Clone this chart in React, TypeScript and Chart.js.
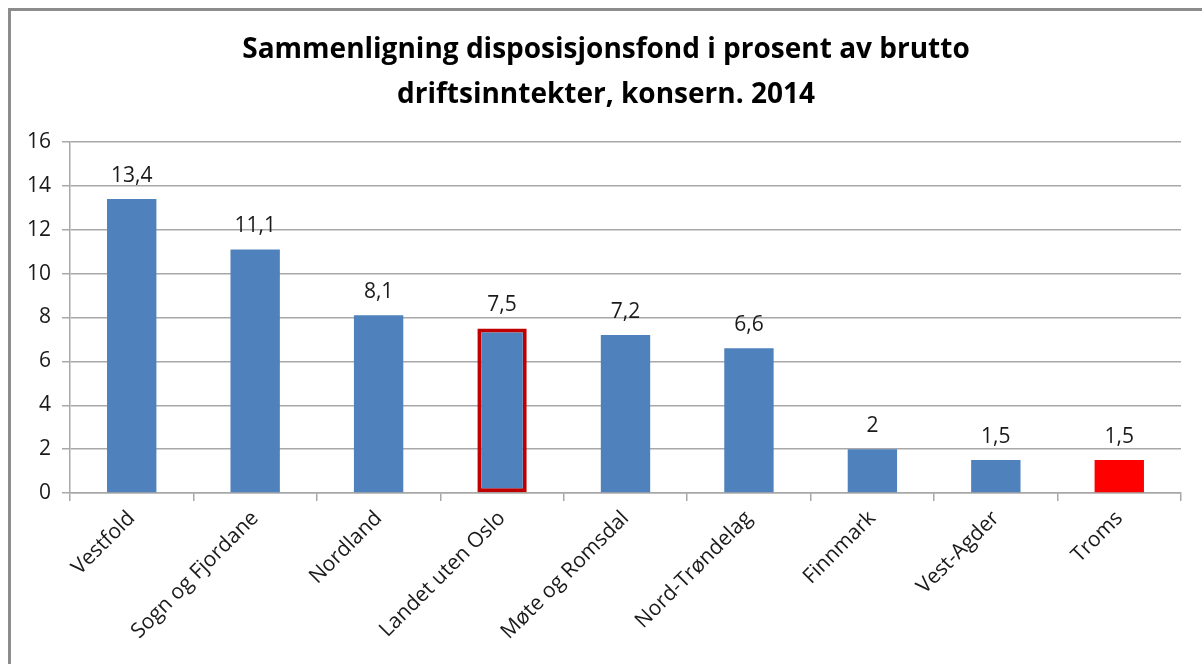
import React, { useEffect, useRef } from "react";
import { Chart, registerables } from "chart.js";

Chart.register(...registerables);

const titleLines = [
  "Sammenligning disposisjonsfond i prosent av brutto",
  "driftsinntekter, konsern. 2014",
];
const categories = [
  "Vestfold",
  "Sogn og Fjordane",
  "Nordland",
  "Landet uten Oslo",
  "Møte og Romsdal",
  "Nord-Trøndelag",
  "Finnmark",
  "Vest-Agder",
  "Troms",
];
const values = [13.4, 11.1, 8.1, 7.5, 7.2, 6.6, 2, 1.5, 1.5];
const yTicks = [0, 2, 4, 6, 8, 10, 12, 14, 16];

const BLUE = "#4F81BD";
const RED = "#FF0000";
const HIGHLIGHT_BORDER = "#C00000";
const GRID = "#A8A8A8";
const FONT = "'Open Sans', 'Noto Sans', sans-serif";

const formatValue = (v: number) => String(v).replace(".", ",");

const valueLabelPlugin = {
  id: "valueLabels",
  afterDatasetsDraw(chart: any) {
    const { ctx } = chart;
    const meta = chart.getDatasetMeta(0);
    ctx.save();
    ctx.font = `21px ${FONT}`;
    ctx.fillStyle = "#1a1a1a";
    ctx.textAlign = "center";
    ctx.textBaseline = "middle";
    meta.data.forEach((bar: any, i: number) => {
      ctx.fillText(formatValue(values[i]), bar.x, bar.y - 23);
    });
    ctx.restore();
  },
};

const titlePlugin = {
  id: "fixedTitle",
  afterDraw(chart: any) {
    const { ctx } = chart;
    ctx.save();
    ctx.font = `bold 28px ${FONT}`;
    ctx.fillStyle = "#000";
    ctx.textAlign = "center";
    ctx.textBaseline = "middle";
    ctx.fillText(titleLines[0], 606, 50);
    ctx.fillText(titleLines[1], 606, 95);
    ctx.restore();
  },
};

export default function App() {
  const canvasRef = useRef<HTMLCanvasElement | null>(null);

  useEffect(() => {
    if (!canvasRef.current) return;
    const chart = new Chart(canvasRef.current, {
      type: "bar",
      data: {
        labels: categories,
        datasets: [
          {
            data: values,
            backgroundColor: categories.map((c) =>
              c === "Troms" ? RED : BLUE
            ),
            borderColor: categories.map((c) =>
              c === "Landet uten Oslo" ? HIGHLIGHT_BORDER : "rgba(0,0,0,0)"
            ),
            borderWidth: categories.map((c) =>
              c === "Landet uten Oslo" ? 4 : 0
            ),
            borderSkipped: false,
            barPercentage: 0.4,
            categoryPercentage: 1,
          },
        ],
      },
      options: {
        responsive: false,
        animation: false,
        devicePixelRatio: 1,
        layout: { padding: { top: 142, right: 21, left: 0, bottom: 0 } },
        plugins: {
          legend: { display: false },
          title: { display: false },
          tooltip: { enabled: false },
        },
        scales: {
          x: {
            grid: {
              display: true,
              drawOnChartArea: false,
              drawTicks: true,
              tickLength: 8,
              offset: true,
              color: GRID,
              lineWidth: 1.5,
            },
            border: { display: true, color: GRID, width: 1.5 },
            ticks: {
              minRotation: 45,
              maxRotation: 45,
              autoSkip: false,
              padding: 5,
              color: "#1a1a1a",
              font: { family: FONT, size: 21 },
            },
            afterFit(scale: any) {
              scale.height = 664 - 493;
            },
          },
          y: {
            min: 0,
            max: 16,
            afterBuildTicks(scale: any) {
              scale.ticks = yTicks.map((v) => ({ value: v }));
            },
            grid: {
              color: GRID,
              lineWidth: 1.5,
              tickLength: 8,
              drawTicks: true,
            },
            border: { display: true, color: GRID, width: 1.5 },
            ticks: {
              padding: 11,
              color: "#1a1a1a",
              font: { family: FONT, size: 21 },
            },
            afterFit(scale: any) {
              scale.width = 70;
            },
          },
        },
      },
      plugins: [valueLabelPlugin, titlePlugin],
    } as any);
    return () => chart.destroy();
  }, []);

  return (
    <div
      style={{
        position: "absolute",
        left: 0,
        top: 0,
        width: 1202,
        height: 664,
        overflow: "hidden",
        background: "#fff",
      }}
    >
      <div
        style={{
          position: "absolute",
          left: 8,
          top: 8,
          width: 1300,
          height: 800,
          borderLeft: "3px solid #8C8C8C",
          borderTop: "3px solid #8C8C8C",
          boxSizing: "border-box",
        }}
      />
      <canvas
        ref={canvasRef}
        width={1202}
        height={664}
        style={{ position: "absolute", left: 0, top: 0 }}
      />
    </div>
  );
}
